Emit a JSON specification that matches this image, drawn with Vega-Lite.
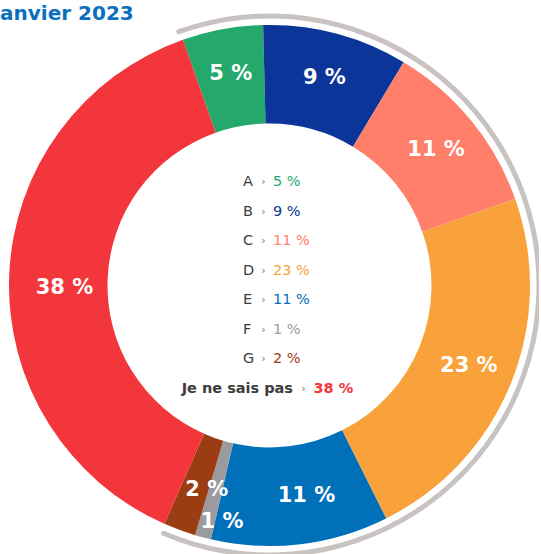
{
  "$schema": "https://vega.github.io/schema/vega-lite/v6.json",
  "width": 539,
  "height": 571,
  "padding": 0,
  "autosize": "none",
  "background": "white",
  "config": {"view": {"stroke": null}},
  "title": {"text": "Janvier 2023", "anchor": "start", "frame": "group", "orient": "top", "offset": -20, "dx": -7.4, "dy": 20, "font": "DejaVu Sans", "fontSize": 20, "fontWeight": "bold", "color": "#0a6fbd", "baseline": "alphabetic"},
  "data": {"values": [
    {"key": "A", "value": 5},
    {"key": "B", "value": 9},
    {"key": "C", "value": 11},
    {"key": "D", "value": 23},
    {"key": "E", "value": 11},
    {"key": "F", "value": 1},
    {"key": "G", "value": 2},
    {"key": "Je ne sais pas", "value": 38}
  ]},
  "transform": [{"calculate": "datum.value + ' %'", "as": "lab"}],
  "layer": [
    {
      "data": {"values": [{"ring": "outer"}]},
      "mark": {"type": "arc", "theta": -0.3526, "theta2": 3.555, "radius": 272, "radius2": 267, "cornerRadius": 2.5, "fill": "#c8c3c0"},
      "encoding": {}
    },
    {
      "mark": {"type": "arc", "outerRadius": 260.5, "innerRadius": 162},
      "encoding": {
        "theta": {"field": "value", "type": "quantitative", "stack": true, "scale": {"domain": [0, 100], "range": [-0.3386, 5.9446]}},
        "order": {"field": "key", "type": "ordinal"},
        "color": {"field": "key", "type": "nominal", "legend": null, "scale": {"domain": ["A", "B", "C", "D", "E", "F", "G", "Je ne sais pas"], "range": ["#25a86b", "#0c3599", "#ff7f6a", "#f9a13b", "#0070b9", "#9b9a9f", "#9b3c12", "#f3363b"]}}
      }
    },
    {
      "mark": {"type": "text", "radius": 215, "font": "DejaVu Sans", "fontSize": 21, "fontWeight": "bold", "fill": "white", "align": "center", "baseline": "middle"},
      "encoding": {
        "theta": {"field": "value", "type": "quantitative", "stack": true},
        "order": {"field": "key", "type": "ordinal"},
        "detail": {"field": "key"},
        "text": {"condition": {"test": "indexof(['A','B','C','D'], datum.key) < 0", "value": ""}, "field": "lab"}
      }
    },
    {
      "mark": {"type": "text", "radius": 214, "thetaOffset": -0.055, "font": "DejaVu Sans", "fontSize": 21, "fontWeight": "bold", "fill": "white", "align": "center", "baseline": "middle"},
      "encoding": {
        "theta": {"field": "value", "type": "quantitative", "stack": true},
        "order": {"field": "key", "type": "ordinal"},
        "detail": {"field": "key"},
        "text": {"condition": {"test": "indexof(['E','G'], datum.key) < 0", "value": ""}, "field": "lab"}
      }
    },
    {
      "mark": {"type": "text", "radius": 205, "thetaOffset": -0.05, "font": "DejaVu Sans", "fontSize": 21, "fontWeight": "bold", "fill": "white", "align": "center", "baseline": "middle"},
      "encoding": {
        "theta": {"field": "value", "type": "quantitative", "stack": true},
        "order": {"field": "key", "type": "ordinal"},
        "detail": {"field": "key"},
        "text": {"condition": {"test": "datum.key !== 'Je ne sais pas'", "value": ""}, "field": "lab"}
      }
    },
    {
      "mark": {"type": "text", "radius": 241, "thetaOffset": -0.06, "font": "DejaVu Sans", "fontSize": 21, "fontWeight": "bold", "fill": "white", "align": "center", "baseline": "middle"},
      "encoding": {
        "theta": {"field": "value", "type": "quantitative", "stack": true},
        "order": {"field": "key", "type": "ordinal"},
        "detail": {"field": "key"},
        "text": {"condition": {"test": "datum.key !== 'F'", "value": ""}, "field": "lab"}
      }
    },
    {
      "transform": [{"filter": "datum.key !== 'Je ne sais pas'"}],
      "mark": {"type": "text", "font": "DejaVu Sans", "fontSize": 14.5, "fill": "#3c3c3c", "align": "left", "baseline": "middle", "dx": -26.5},
      "encoding": {
        "y": {"field": "key", "type": "nominal", "axis": null, "scale": {"type": "point", "domain": ["A", "B", "C", "D", "E", "F", "G", "Je ne sais pas"], "range": [182, 389], "padding": 0}},
        "text": {"field": "key"}
      }
    },
    {
      "transform": [{"filter": "datum.key !== 'Je ne sais pas'"}],
      "mark": {"type": "text", "font": "DejaVu Sans", "fontSize": 11, "fill": "#777777", "align": "center", "baseline": "middle", "dx": -6, "text": "›"},
      "encoding": {
        "y": {"field": "key", "type": "nominal", "axis": null}
      }
    },
    {
      "transform": [{"filter": "datum.key !== 'Je ne sais pas'"}],
      "mark": {"type": "text", "font": "DejaVu Sans", "fontSize": 14.5, "align": "left", "baseline": "middle", "dx": 3.5},
      "encoding": {
        "y": {"field": "key", "type": "nominal", "axis": null},
        "text": {"field": "lab"},
        "color": {"field": "key", "type": "nominal", "legend": null}
      }
    },
    {
      "transform": [{"filter": "datum.key === 'Je ne sais pas'"}],
      "mark": {"type": "text", "font": "DejaVu Sans", "fontSize": 14.5, "fontWeight": "bold", "fill": "#3c3c3c", "align": "right", "baseline": "middle", "dx": 23.5},
      "encoding": {
        "y": {"field": "key", "type": "nominal", "axis": null},
        "text": {"field": "key"}
      }
    },
    {
      "transform": [{"filter": "datum.key === 'Je ne sais pas'"}],
      "mark": {"type": "text", "font": "DejaVu Sans", "fontSize": 11, "fill": "#777777", "align": "center", "baseline": "middle", "dx": 34, "text": "›"},
      "encoding": {
        "y": {"field": "key", "type": "nominal", "axis": null}
      }
    },
    {
      "transform": [{"filter": "datum.key === 'Je ne sais pas'"}],
      "mark": {"type": "text", "font": "DejaVu Sans", "fontSize": 14.5, "fontWeight": "bold", "align": "left", "baseline": "middle", "dx": 44},
      "encoding": {
        "y": {"field": "key", "type": "nominal", "axis": null},
        "text": {"field": "lab"},
        "color": {"field": "key", "type": "nominal", "legend": null}
      }
    }
  ]
}
